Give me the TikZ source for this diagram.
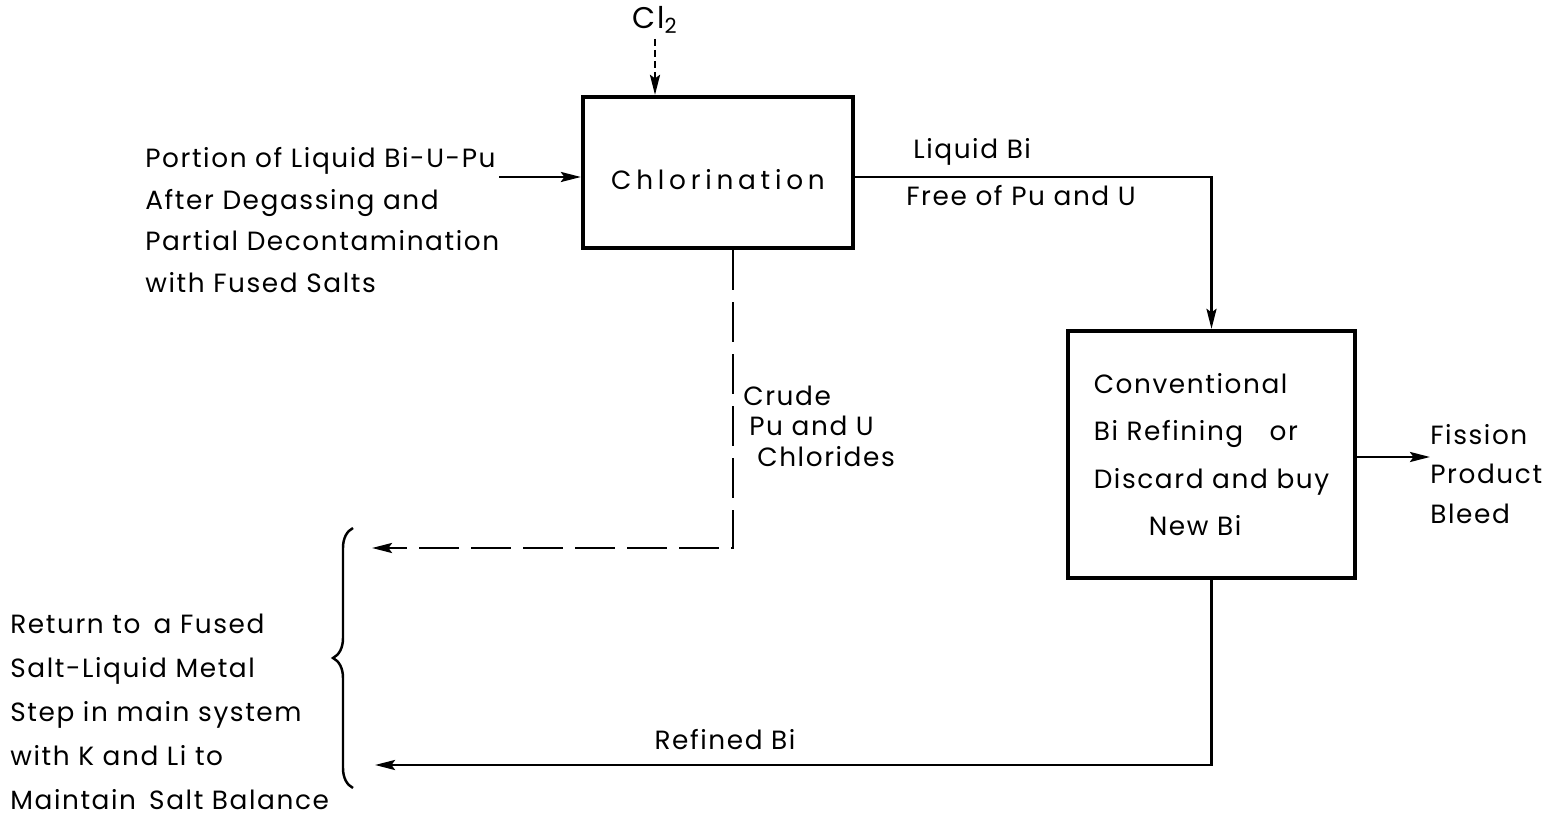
\documentclass[tikz,border=0pt]{standalone}
\usepackage{fontspec}
\setmainfont{Poppins}[LetterSpace=6]
\usetikzlibrary{arrows.meta,positioning,calc,decorations.pathreplacing}
\newcommand{\fonte}{\fontsize{15}{24}\selectfont}
\tikzset{
  bloco/.style={draw, line width=2.4pt, inner sep=0pt, font=\fonte},
  seta/.style={-{Stealth[length=4mm,width=2mm,inset=0.7mm]}, line width=1.5pt},
  setatracejada/.style={seta, dash pattern=on 8mm off 2.4mm},
  rotulo/.style={font=\fonte, align=left, inner sep=0pt},
}

\begin{document}
\begin{tikzpicture}[x=0.2mm,y=-0.2mm]
  \useasboundingbox (0,0) rectangle (1543,817);

  % Blocos do processo
  \node[bloco, minimum width=54mm, minimum height=30.2mm] (clor) at (718,172.5)
    {\raisebox{-3.5mm}[0pt][0pt]{\addfontfeature{LetterSpace=18}Chlorination}};
  \node[bloco, minimum width=57.4mm, minimum height=49.4mm, align=left,
        font=\fontsize{15}{27}\selectfont] (refino) at (1211.5,454.5)
    {Conventional\\Bi Refining\quad or\\Discard and buy\\\hspace*{11mm}New Bi};

  % Entradas: carga de Bi-U-Pu e cloro
  \node[rotulo, font=\fontsize{17}{20}\selectfont] (cloro) at (655,20) {Cl\textsubscript{2}};
  \node[rotulo, anchor=west, font=\fontsize{15}{23.7}\selectfont] (carga) at (145,220)
    {Portion of Liquid Bi-U-Pu\\After Degassing and\\Partial Decontamination\\with Fused Salts};
  \coordinate (fimcarga) at (499,177);
  \draw[seta] (fimcarga) -- (fimcarga -| clor.west);
  \draw[seta, dash pattern=on 1.4mm off 0.8mm, shorten <=1mm] (cloro.south) -- (cloro.south |- clor.north);

  % Bi liquido para o refino
  \draw[seta] (fimcarga -| clor.east) -- (fimcarga -| refino.north) -- (refino.north);
  \node[rotulo, anchor=west] (bi) at (913,152) {Liquid Bi};
  \node[rotulo, anchor=west] (livre) at (906,196) {Free of Pu and U};

  % Cloretos brutos (tracejado)
  \coordinate (retsal) at (372,548);
  \draw[setatracejada] ([xshift=3mm]clor.south) |- (retsal);
  \node[rotulo, anchor=west, font=\fontsize{15}{17.4}\selectfont] (cloretos) at (743,426)
    {Crude\\\hspace*{1.2mm}Pu and U\\\hspace*{2.8mm}Chlorides};

  % Bi refinado
  \coordinate (retbi) at (375,765);
  \draw[seta] (refino.south) |- (retbi);
  \node[rotulo] (refinado) at (725,740) {Refined Bi};

  % Sangria de produtos de fissao
  \node[rotulo, anchor=west, font=\fontsize{15}{22.4}\selectfont] (sangria) at (1430,474)
    {Fission\\Product\\Bleed};
  \coordinate (sangriaseta) at ([yshift=3.4mm]sangria.west);
  \draw[seta] (sangriaseta -| refino.east) -- (sangriaseta);

  % Retorno ao sistema principal
  \draw[decorate, decoration={brace, amplitude=4mm}, line width=1.4pt] (353,788) -- (353,528);
  \node[rotulo, anchor=west, font=\fontsize{15}{25}\selectfont] (retorno) at (10,712)
    {Return to\enspace a Fused\\Salt-Liquid Metal\\Step in main system\\with K and Li to\\Maintain\enspace Salt Balance};
\end{tikzpicture}
\end{document}
